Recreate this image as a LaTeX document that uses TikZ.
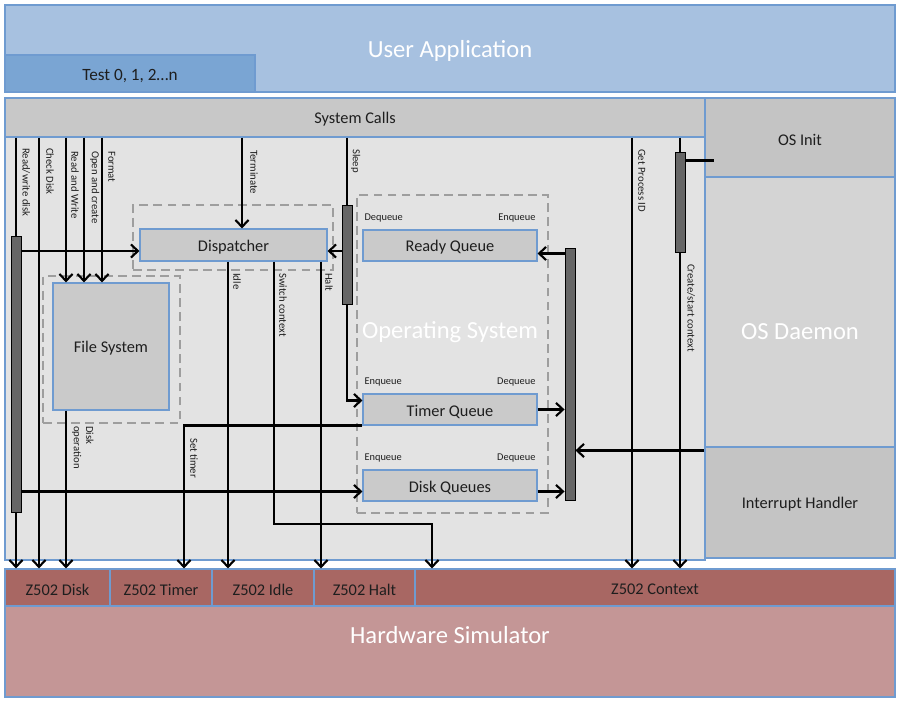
\documentclass[tikz,border=0pt]{standalone}
\usepackage{fontspec}
\setmainfont{Carlito}
\usetikzlibrary{positioning,fit,calc,arrows.meta}
\definecolor{appblue}{HTML}{A7C1E0}
\definecolor{testblue}{HTML}{7AA5D3}
\definecolor{edgeblue}{HTML}{6F9BD0}
\definecolor{callgray}{HTML}{C8C8C8}
\definecolor{areagray}{HTML}{E3E3E3}
\definecolor{initgray}{HTML}{C4C4C4}
\definecolor{daemongray}{HTML}{D4D4D4}
\definecolor{unitgray}{HTML}{CACACA}
\definecolor{bargray}{HTML}{666666}
\definecolor{hwred}{HTML}{A86763}
\definecolor{hwpink}{HTML}{C49696}
\definecolor{inkgray}{HTML}{1E1E1E}
\tikzset{
block/.style={draw=edgeblue,line width=0.6pt,inner sep=0pt},
appbox/.style={block,fill=appblue},
testbox/.style={block,fill=testblue},
callbar/.style={block,fill=callgray},
osarea/.style={block,fill=areagray},
sidebox/.style={block,fill=initgray},
unit/.style={block,fill=unitgray},
hwcell/.style={block,fill=hwred},
hwbase/.style={block,fill=hwpink},
boxtext/.style={text=inkgray,font=\fontsize{9.3}{11}\selectfont,yshift=-1.2pt},
dashframe/.style={draw=black!38,dash pattern=on 5pt off 3pt,line width=0.6pt,inner sep=0pt},
busbar/.style={draw=black,fill=bargray,line width=0.5pt,inner sep=0pt},
bigtext/.style={text=white,font=\fontsize{14}{16}\selectfont},
queuetag/.style={text=inkgray,font=\fontsize{5.9}{7}\selectfont,inner sep=1pt},
sidelabel/.style={text=inkgray,font=\fontsize{6.1}{6.9}\selectfont,inner sep=0.5pt,rotate=-90,anchor=south west,align=left},
flowarrow/.style={-{Straight Barb[length=4pt,width=7.5pt]},line width=1.2pt,black},
flowline/.style={line width=1.2pt,black}
}
\begin{document}
\begin{tikzpicture}[x=0.02cm,y=-0.02cm]
\useasboundingbox[fill=white] (0,0) rectangle (900,702);
\node[appbox,fit={(5,5) (895,92)}] (app) {};
\node[bigtext] (apptxt) at (450,51) {User Application};
\node[testbox,fit={(5,55) (255,92)},label={[boxtext,font=\fontsize{9.8}{11}\selectfont]center:Test 0, 1, 2…n}] (tests) {};

\node[osarea,fit={(5,137) (705,560)}] (os) {};
\node[callbar,fit={(5,98) (705,137)},label={[boxtext]center:System Calls}] (calls) {};
\node[sidebox,fit={(705,98) (895,177)},label={[boxtext]center:OS Init}] (osinit) {};
\node[sidebox,fill=daemongray,fit={(705,177) (895,447)}] (daemon) {};
\node[bigtext] (daemontxt) at (800,332) {OS Daemon};
\node[sidebox,fit={(705,447) (895,558)},label={[boxtext]center:Interrupt Handler}] (inth) {};

\node[dashframe,fit={(133,205) (333,270)}] (dispzone) {};
\node[dashframe,fit={(43,276) (180,423)}] (fszone) {};
\node[dashframe,fit={(357,195) (548,513)}] (oszone) {};

\node[unit,fit={(140,229) (327,261)},label={[boxtext]center:Dispatcher}] (disp) {};
\node[unit,fit={(53,283) (169,410)},label={[boxtext]center:File System}] (fs) {};
\node[unit,fit={(363,230) (537,261)},label={[boxtext]center:Ready Queue}] (rq) {};
\node[unit,fit={(363,394) (537,425)},label={[boxtext]center:Timer Queue}] (tq) {};
\node[unit,fit={(363,470) (537,501)},label={[boxtext]center:Disk Queues}] (dq) {};
\node[bigtext] (ostxt) at (450,332) {Operating System};

\node[queuetag,above right=3pt and 0pt of rq.north west] (rqout) {Dequeue};
\node[queuetag,above left=3pt and 0pt of rq.north east] (rqin) {Enqueue};
\node[queuetag,above right=3pt and 0pt of tq.north west] (tqin) {Enqueue};
\node[queuetag,above left=3pt and 0pt of tq.north east] (tqout) {Dequeue};
\node[queuetag,above right=3pt and 0pt of dq.north west] (dqin) {Enqueue};
\node[queuetag,above left=3pt and 0pt of dq.north east] (dqout) {Dequeue};

\node[busbar,fit={(11,236) (21,512)}] (lbar) {};
\node[busbar,fit={(342,205) (352,304)}] (sbar) {};
\node[busbar,fit={(565,248) (575,500)}] (rbar) {};
\node[busbar,fit={(675,152) (685,252)}] (cbar) {};

\node[hwcell,fit={(5,569) (110,606)},label={[boxtext]center:Z502 Disk}] (zdisk) {};
\node[hwcell,fit={(110,569) (212,606)},label={[boxtext]center:Z502 Timer}] (ztimer) {};
\node[hwcell,fit={(212,569) (314,606)},label={[boxtext]center:Z502 Idle}] (zidle) {};
\node[hwcell,fit={(314,569) (415,606)},label={[boxtext]center:Z502 Halt}] (zhalt) {};
\node[hwcell,fit={(415,569) (895,606)},label={[boxtext]center:Z502 Context}] (zctx) {};
\node[hwbase,fit={(5,606) (895,697)}] (hw) {};
\node[bigtext] (hwtxt) at (450,635) {Hardware Simulator};

\coordinate (xcd) at (39,0);
\coordinate (xrw) at (66,0);
\coordinate (xoc) at (84,0);
\coordinate (xfm) at (102,0);
\coordinate (xst) at (184,0);
\coordinate (xid) at (228,0);
\coordinate (xtm) at (242,0);
\coordinate (xsw) at (274,0);
\coordinate (xht) at (321,0);
\coordinate (jog) at (432,524);
\coordinate (xgp) at (632,0);
\coordinate (dispin) at ($(disp.west)+(0,6)$);
\coordinate (slpin) at ($(disp.east)+(0,6)$);
\coordinate (tqin) at ($(tq.west)+(0,-9)$);
\coordinate (dqin) at ($(dq.west)+(0,6)$);
\coordinate (rqin) at ($(rq.east)+(0,8)$);
\coordinate (irq) at ($(inth.north west)+(0,4)$);
\coordinate (oiin) at ($(osinit.west)+(10,23)$);

\draw[flowline] (lbar.north |- calls.south) -- (lbar.north);
\draw[flowarrow] (lbar.south) -- (lbar.south |- zdisk.north);
\draw[flowarrow] (xcd |- calls.south) -- (xcd |- zdisk.north);
\foreach \c in {xrw,xoc,xfm}
  \draw[flowarrow] (\c |- calls.south) -- (\c |- fs.north);
\draw[flowarrow] (xtm |- calls.south) -- (xtm |- disp.north);
\draw[flowline] (sbar.north |- calls.south) -- (sbar.north);
\draw[flowarrow] (sbar.west |- slpin) -- (slpin);
\draw[flowarrow] (sbar.south) |- (tqin);
\draw[flowarrow] (lbar.east |- dispin) -- (dispin);
\draw[flowarrow] (lbar.east |- dqin) -- (dqin);
\draw[flowarrow] (fs.south -| xrw) -- (xrw |- zdisk.north);
\draw[flowarrow] (disp.south -| xid) -- (xid |- zidle.north);
\draw[flowarrow] (disp.south -| xsw) |- (jog) -- (jog |- zctx.north);
\draw[flowarrow] (disp.south -| xht) -- (xht |- zhalt.north);
\draw[flowarrow] (tq.south west) -| (xst |- ztimer.north);
\draw[flowarrow] (rbar.west |- rqin) -- (rqin);
\draw[flowarrow] (tq.east) -- (tq.east -| rbar.west);
\draw[flowarrow] (dq.east |- dqin) -- (rbar.west |- dqin);
\draw[flowarrow] (irq) -- (irq -| rbar.east);
\draw[flowarrow] (xgp |- calls.south) -- (xgp |- zctx.north);
\draw[flowline] (cbar.north |- calls.south) -- (cbar.north);
\draw[flowarrow] (cbar.south) -- (cbar.south |- zctx.north);
\draw[flowline] (cbar.east |- oiin) -- (oiin);

\node[sidelabel] (lrwd) at (21,147) {Read/write disk};
\node[sidelabel] (lcd) at (45,147) {Check Disk};
\node[sidelabel] (lrw) at (70,150) {Read and Write};
\node[sidelabel] (loc) at (89,150) {Open and create};
\node[sidelabel] (lfm) at (107,150) {Format};
\node[sidelabel] (ltm) at (249,149) {Terminate};
\node[sidelabel] (lsl) at (350,148) {Sleep};
\node[sidelabel] (lid) at (232,272) {Idle};
\node[sidelabel] (lsw) at (278,272) {Switch context};
\node[sidelabel] (lht) at (324,272) {Halt};
\node[sidelabel] (ldo) at (71,425) {Disk\\operation};
\node[sidelabel] (lst) at (189,437) {Set timer};
\node[sidelabel] (lgp) at (637,148) {Get Process ID};
\node[sidelabel] (lcs) at (686,263) {Create/start context};
\end{tikzpicture}
\end{document}
